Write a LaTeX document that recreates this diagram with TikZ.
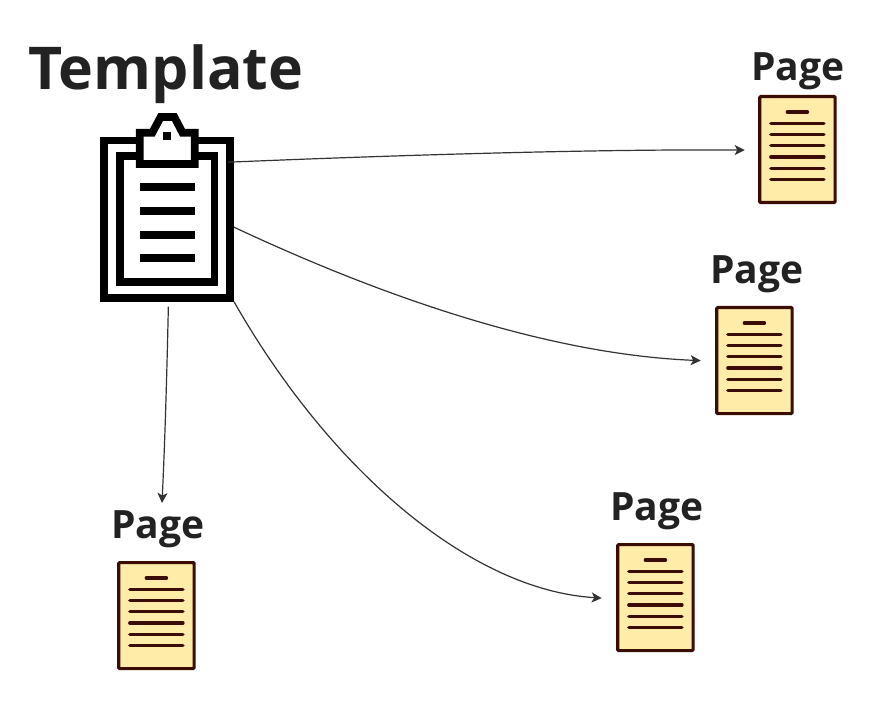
\documentclass[tikz,border=0pt]{standalone}
\usepackage{fontspec}
\setmainfont{Open Sans}
\usetikzlibrary{arrows.meta}
\definecolor{docfill}{HTML}{FFECA9}
\definecolor{docline}{HTML}{3A0C02}
\definecolor{ink}{HTML}{222222}
\definecolor{conn}{HTML}{333333}
\tikzset{
  x=1pt,y=-1pt,
  docbox/.style={draw=docline,fill=docfill,line width=3.2pt,rounded corners=1pt,minimum width=75.4pt,minimum height=106pt,inner sep=0pt,outer sep=0pt},
  docrule/.style={draw=docline,line width=3.5pt,line cap=round},
  clipstroke/.style={draw=black,line width=7.8pt,miter limit=10},
  cliprule/.style={fill=black},
  pagelabel/.style={font=\bfseries\fontsize{39}{42}\selectfont,text=ink,inner sep=0pt,anchor=base},
  conn/.style={draw=conn,line width=1.2pt,-{Stealth[length=10pt,width=10pt,inset=2.5pt]}},
}
\newcommand{\pagedoc}[3]{%
  \node[docbox] (#1) at (#2,#3) {};
  \begin{scope}[shift={(#2,#3)}]
    \draw[docrule] (-10,-37.5) -- (10,-37.5);
    \foreach \yy in {-26.2,-14.9,-3.9,7.5,18.8,30.1}
      \draw[docrule] (-26.5,\yy) -- (26.5,\yy);
  \end{scope}}
\begin{document}
\begin{tikzpicture}
\useasboundingbox (0,0) rectangle (892,703);
% clipboard
\node[minimum width=133.3pt,minimum height=165pt,inner sep=0pt,outer sep=0pt] (tmpl) at (167.35,219.2) {};
\draw[clipstroke] (104.2,140.5) rectangle (230,298);
\draw[clipstroke] (119.7,156) rectangle (214.5,282);
\draw[clipstroke,fill=white] (139.7,132.7) -- (152.3,132.7) -- (160.7,117) -- (174.3,117) -- (182.5,132.7) -- (194.7,132.7) -- (194.7,164) -- (139.7,164) -- cycle;
\fill[black] (163.3,132.3) rectangle (171.3,140.3);
\foreach \yy in {187.3,211,234.7,258.3}
  \fill[cliprule] (139.7,\yy-4) rectangle (194.7,\yy+4);
% title
\node[font=\bfseries\fontsize{59}{62}\selectfont,text=ink,inner sep=0pt,anchor=base] (title) at (166,90) {Template};
% pages
\pagedoc{p1}{797.4}{149.6}
\pagedoc{p2}{754.4}{360.6}
\pagedoc{p3}{655.4}{597.6}
\pagedoc{p4}{156.4}{615.6}
\node[pagelabel] (l1) at (798,80.5) {Page};
\node[pagelabel] (l2) at (757,283.5) {Page};
\node[pagelabel] (l3) at (657,520.5) {Page};
\node[pagelabel] (l4) at (158,538.5) {Page};
% connectors
\draw[conn] ([shift={(-6,-57)}]tmpl.east) .. controls (400,155) and (600,149) .. ([shift={(-15,0.5)}]p1.west);
\draw[conn] ([shift={(0,8)}]tmpl.east) .. controls (400,305) and (560,355) .. ([shift={(-16,0)}]p2.west);
\draw[conn] (tmpl.south east) .. controls (330,470) and (470,590) .. ([shift={(-16,0.5)}]p3.west);
\draw[conn] ([shift={(1,5)}]tmpl.south) .. controls (167,370) and (165,440) .. ([shift={(4,-7.5)}]l4.north);
\end{tikzpicture}
\end{document}
